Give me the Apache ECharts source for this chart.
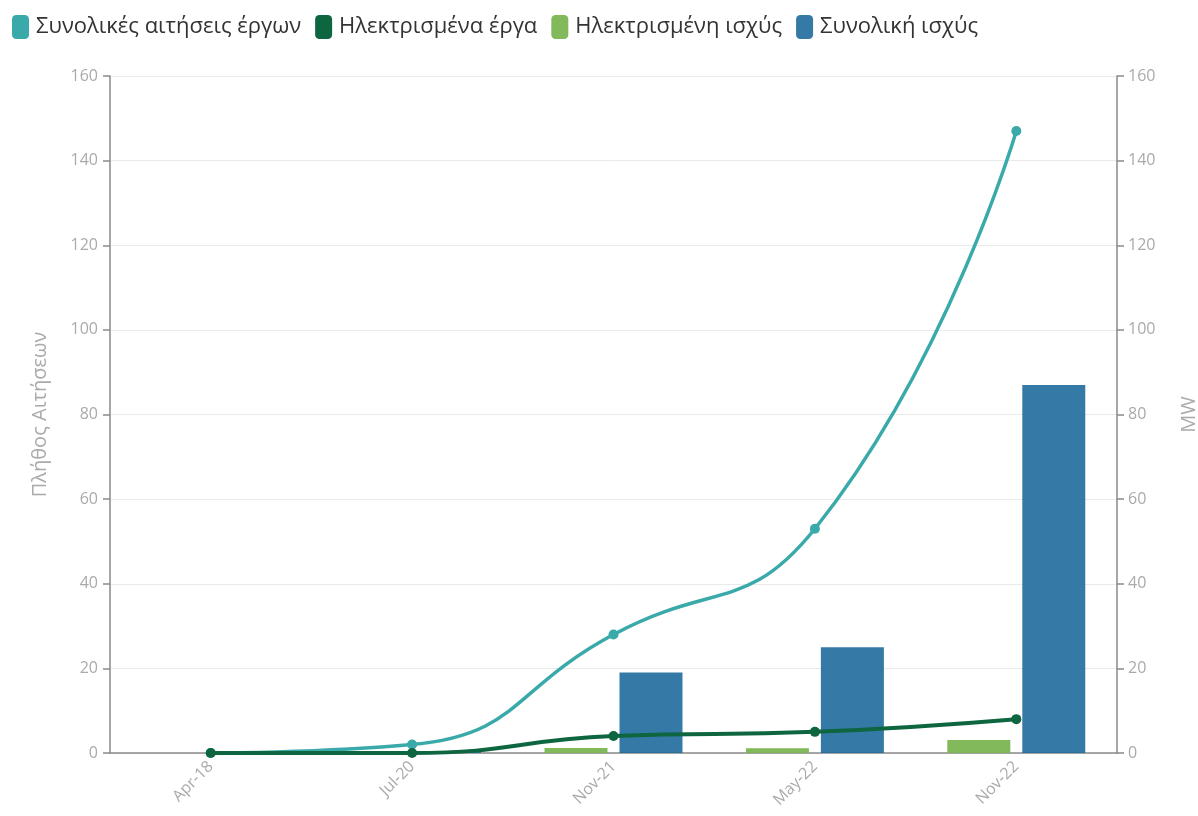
<!DOCTYPE html>
<html>
<head>
<meta charset="utf-8">
<script src="https://cdn.jsdelivr.net/npm/echarts@6/dist/echarts.min.js"></script>
<style>
html,body{margin:0;padding:0;background:#fff;}
#c{width:1198px;height:816px;}
</style>
</head>
<body>
<div id="c"></div>
<script>
var categories = ['Apr-18', 'Jul-20', 'Nov-21', 'May-22', 'Nov-22'];
var totalApplications = [0, 2, 28, 53, 147];
var electrifiedProjects = [0, 0, 4, 5, 8];
var electrifiedPower = [0, 0, 1.2, 1.1, 3.1];
var totalPower = [0, 0.4, 19, 25, 87];
var leftTicks = [0, 20, 40, 60, 80, 100, 120, 140, 160];

var FONT = '"Open Sans", "Noto Sans", sans-serif';
var chart = echarts.init(document.getElementById('c'));
var axisGrey = '#8a8a8a';
var labelGrey = '#aaaaaa';

chart.setOption({
  animation: false,
  textStyle: { fontFamily: FONT },
  legend: {
    left: 7, top: 10,
    itemWidth: 17, itemHeight: 24, itemGap: 14,
    icon: 'roundRect',
    textStyle: { fontSize: 22, color: '#333', fontFamily: FONT, padding: [0, 0, 0, 2] },
    data: ['Συνολικές αιτήσεις έργων', 'Ηλεκτρισμένα έργα', 'Ηλεκτρισμένη ισχύς', 'Συνολική ισχύς']
  },
  grid: { left: 110, right: 81, top: 76, bottom: 63, outerBoundsMode: 'none', containLabel: false },
  xAxis: {
    type: 'category',
    data: categories,
    boundaryGap: true,
    axisLine: { lineStyle: { color: axisGrey, width: 1.5 } },
    axisTick: { alignWithLabel: true, length: 7, lineStyle: { color: axisGrey, width: 1.5 } },
    axisLabel: { rotate: 45, color: labelGrey, fontSize: 16, margin: 11, fontFamily: FONT }
  },
  yAxis: [
    {
      type: 'value', min: leftTicks[0], max: leftTicks[leftTicks.length - 1], interval: 20,
      name: 'Πλήθος Αιτήσεων', nameLocation: 'middle', nameGap: 60, nameRotate: 90,
      nameTextStyle: { color: labelGrey, fontSize: 20, fontFamily: FONT },
      axisLine: { show: true, lineStyle: { color: axisGrey, width: 1.5 } },
      axisTick: { show: true, length: 7, lineStyle: { color: axisGrey, width: 1.5 } },
      axisLabel: { color: labelGrey, fontSize: 16, margin: 12, fontFamily: FONT },
      splitLine: { lineStyle: { color: '#eaeaea' } }
    },
    {
      type: 'value', min: 0, max: 160, interval: 20,
      name: 'MW', nameLocation: 'middle', nameGap: 62, nameRotate: 90,
      nameTextStyle: { color: labelGrey, fontSize: 20, fontFamily: FONT },
      axisLine: { show: true, lineStyle: { color: axisGrey, width: 1.5 } },
      axisTick: { show: true, length: 7, lineStyle: { color: axisGrey, width: 1.5 } },
      axisLabel: { color: labelGrey, fontSize: 16, margin: 11, fontFamily: FONT },
      splitLine: { show: false }
    }
  ],
  series: [
    {
      name: 'Ηλεκτρισμένη ισχύς', type: 'bar', yAxisIndex: 1,
      data: electrifiedPower, barWidth: 63, barGap: '19%',
      itemStyle: { color: '#7ab552', opacity: 0.95 }, z: 2
    },
    {
      name: 'Συνολική ισχύς', type: 'bar', yAxisIndex: 1,
      data: totalPower, barWidth: 63,
      itemStyle: { color: '#1f6b9c', opacity: 0.9 }, z: 2
    },
    {
      name: 'Συνολικές αιτήσεις έργων', type: 'line', yAxisIndex: 0,
      data: totalApplications, smooth: 0.5,
      symbol: 'circle', symbolSize: 10,
      lineStyle: { color: '#3aa9a9', width: 3.5 },
      itemStyle: { color: '#3aa9a9' }, z: 3
    },
    {
      name: 'Ηλεκτρισμένα έργα', type: 'line', yAxisIndex: 0,
      data: electrifiedProjects, smooth: 0.5,
      symbol: 'circle', symbolSize: 10,
      lineStyle: { color: '#0e6640', width: 4 },
      itemStyle: { color: '#0e6640' }, z: 4
    }
  ]
});
</script>
</body>
</html>
